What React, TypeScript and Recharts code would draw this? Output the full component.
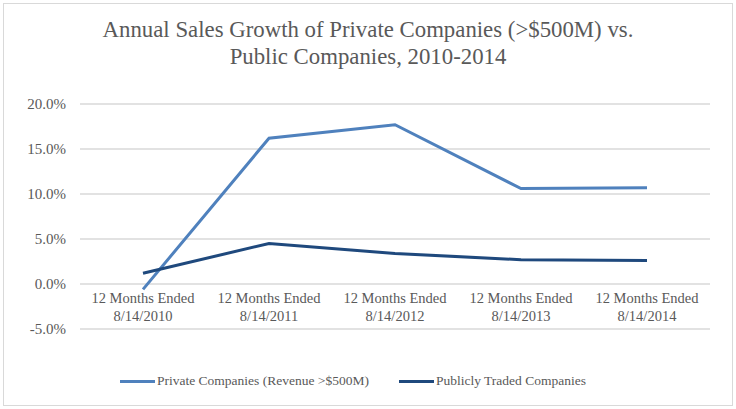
import React from "react";
import { LineChart, Line, XAxis, YAxis, CartesianGrid } from "recharts";

const categories = [
  "12 Months Ended|8/14/2010",
  "12 Months Ended|8/14/2011",
  "12 Months Ended|8/14/2012",
  "12 Months Ended|8/14/2013",
  "12 Months Ended|8/14/2014",
];
const privateValues = [-0.6, 16.2, 17.7, 10.6, 10.7];
const publicValues = [1.2, 4.5, 3.4, 2.7, 2.6];
const yTicks = [-5, 0, 5, 10, 15, 20];

const seriesNames = ["Private Companies (Revenue >$500M)", "Publicly Traded Companies"];
const colors = ["#4f81bd", "#1f497d"];

const data = categories.map((c, i) => ({
  name: c,
  private: privateValues[i],
  public: publicValues[i],
}));

const FONT = "'Liberation Serif', 'DejaVu Serif', serif";
const GRAY = "#595959";

const XTick = (props: any) => {
  const { x, y, payload } = props;
  const parts = String(payload.value).split("|");
  return (
    <g transform={`translate(${x},${y})`}>
      <text textAnchor="middle" fill={GRAY} fontSize={14.5} fontFamily={FONT}>
        <tspan x={0} y={-26}>{parts[0]}</tspan>
        <tspan x={0} y={-8}>{parts[1]}</tspan>
      </text>
    </g>
  );
};

export default function App() {
  return (
    <div style={{ position: "absolute", left: 3, top: 3, width: 728, height: 401, border: "1px solid #d9d9d9", background: "#fff" }}>
      <div
        style={{
          position: "absolute",
          left: 0,
          top: 12,
          width: 728,
          textAlign: "center",
          fontFamily: FONT,
          fontSize: 22.8,
          lineHeight: "27px",
          color: GRAY,
        }}
      >
        Annual Sales Growth of Private Companies (&gt;$500M) vs.
        <br />
        Public Companies, 2010-2014
      </div>
      <div style={{ position: "absolute", left: 0, top: 0 }}>
        <LineChart width={728} height={401} data={data} margin={{ top: 100, right: 22, bottom: 75, left: 0 }}>
          <CartesianGrid vertical={false} stroke="#d9d9d9" strokeWidth={1.5} />
          <XAxis
            dataKey="name"
            axisLine={false}
            tickLine={false}
            tickSize={0}
            tickMargin={0}
            tick={<XTick />}
            interval={0}
            height={1}
            padding={{ left: 63, right: 63 }}
          />
          <YAxis
            domain={[-5, 20]}
            ticks={yTicks}
            axisLine={false}
            tickLine={false}
            tickSize={0}
            tickMargin={14}
            width={76}
            tickFormatter={(v: number) => `${v.toFixed(1)}%`}
            tick={{ fill: GRAY, fontSize: 15, fontFamily: FONT }}
          />
          <Line dataKey="private" name={seriesNames[0]} stroke={colors[0]} strokeWidth={3} dot={false} isAnimationActive={false} />
          <Line dataKey="public" name={seriesNames[1]} stroke={colors[1]} strokeWidth={3} dot={false} isAnimationActive={false} />
        </LineChart>
      </div>
      <div
        style={{
          position: "absolute",
          left: 116,
          top: 369,
          display: "flex",
          gap: 30,
          fontFamily: FONT,
          fontSize: 13.5,
          color: GRAY,
        }}
      >
        {seriesNames.map((n, i) => (
          <div key={n} style={{ display: "flex", alignItems: "center" }}>
            <div style={{ width: 35, height: 3, background: colors[i], marginRight: 2 }} />
            <span>{n}</span>
          </div>
        ))}
      </div>
    </div>
  );
}
